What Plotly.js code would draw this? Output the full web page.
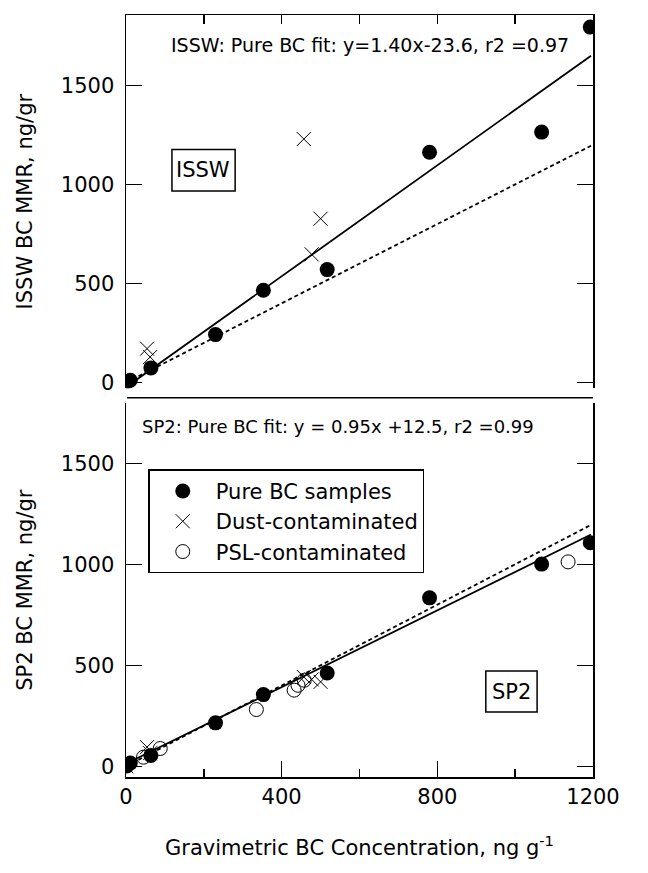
<!DOCTYPE html>
<html><head><meta charset="utf-8">
<script src="https://cdn.plot.ly/plotly-3.0.1.min.js"></script>
<style>html,body{margin:0;padding:0;background:#fff}</style>
</head><body><div id="chart" style="width:648px;height:873px"></div>
<script>
// Gravimetric BC (x) for the sample groups
const pureX = [2, 11, 64, 230, 353, 517, 780, 1068, 1193];
const dustX = [1, 54, 62, 457, 477, 500];
const pslX  = [45, 88, 335, 432, 442, 458, 1136];
// ISSW panel values
const isswPureY = [3, 12, 74, 242, 466, 570, 1162, 1264, 1794];
const isswDustY = [-39, 171, 129, 1229, 647, 827];
// SP2 panel values
const sp2PureY = [2, 16, 54, 215, 355, 462, 834, 1001, 1107];
const sp2DustY = [0, 95, 65, 442, 430, 418];
const sp2PslY  = [45, 88, 281, 377, 401, 426, 1012];
// fits (from the printed equations) and 1:1 line
const fitX = [0, 1195];
const isswSlope = 1.40, isswIntercept = -23.6;
const sp2Slope = 0.95, sp2Intercept = 12.5;
// tick labels
const xTicks = [0, 400, 800, 1200];
const xMinorTicks = [200, 600, 1000];
const yTicks = [0, 500, 1000, 1500];

const F = '"DejaVu Sans", sans-serif';
const fit = (m, b) => fitX.map(x => m * x + b);

const pureMarker = {symbol: 'circle', size: 15, color: '#000'};
const dustMarker = {symbol: 'x-thin-open', size: 14, color: '#000', line: {width: 1, color: '#000'}};
const pslMarker = {symbol: 'circle-open', size: 14, color: '#000', line: {width: 1, color: '#000'}};
const solid = {color: '#000', width: 1.8};
const dotted = {color: '#000', width: 1.8, dash: '4px,3px'};

const traces = [
  // ISSW panel
  {x: fitX, y: fitX, xaxis: 'x2', yaxis: 'y2', mode: 'lines', line: dotted, showlegend: false},
  {x: fitX, y: fit(isswSlope, isswIntercept), xaxis: 'x2', yaxis: 'y2', mode: 'lines', line: solid, showlegend: false},
  {x: dustX, y: isswDustY, xaxis: 'x2', yaxis: 'y2', mode: 'markers', marker: dustMarker, showlegend: false},
  {x: pureX, y: isswPureY, xaxis: 'x2', yaxis: 'y2', mode: 'markers', marker: pureMarker, showlegend: false},
  // SP2 panel
  {x: fitX, y: fitX, xaxis: 'x', yaxis: 'y', mode: 'lines', line: dotted, showlegend: false},
  {x: fitX, y: fit(sp2Slope, sp2Intercept), xaxis: 'x', yaxis: 'y', mode: 'lines', line: solid, showlegend: false},
  {x: pureX, y: sp2PureY, xaxis: 'x', yaxis: 'y', mode: 'markers', marker: pureMarker, name: 'Pure BC samples'},
  {x: dustX, y: sp2DustY, xaxis: 'x', yaxis: 'y', mode: 'markers', marker: dustMarker, name: 'Dust-contaminated'},
  {x: pslX, y: sp2PslY, xaxis: 'x', yaxis: 'y', mode: 'markers', marker: pslMarker, name: 'PSL-contaminated'}
];

const axCommon = {showline: true, linewidth: 1.5, linecolor: '#000', ticks: 'inside', tickwidth: 1.5, tickcolor: '#000',
  showgrid: false, zeroline: false, tickfont: {family: F, size: 21, color: '#000'}};

const boxLine = {color: '#000', width: 1.5};

const layout = {
  width: 648, height: 873,
  margin: {l: 125.7, r: 54.7, t: 14.7, b: 96.3, pad: 0},
  paper_bgcolor: '#fff', plot_bgcolor: '#fff',
  font: {family: F, color: '#000'},
  showlegend: true,
  legend: {x: 0.0477, y: 0.4038, xanchor: 'left', yanchor: 'top', bordercolor: '#000', borderwidth: 1.5,
    bgcolor: '#fff', font: {family: F, size: 21, color: '#000'}, itemwidth: 56, tracegroupgap: 0},
  xaxis: Object.assign({}, axCommon, {domain: [0, 1], range: [0, 1200], anchor: 'y', tickvals: xTicks, ticklen: 16,
    minor: {tickvals: xMinorTicks, ticks: 'inside', ticklen: 8, tickwidth: 1.5, tickcolor: '#000', showgrid: false},
    title: {text: 'Gravimetric BC Concentration, ng g<sup>-1</sup>', font: {family: F, size: 21, color: '#000'}, standoff: 32}}),
  xaxis2: Object.assign({}, axCommon, {domain: [0, 1], range: [0, 1200], anchor: 'y2', side: 'top', matches: 'x',
    tickmode: 'linear', tick0: 0, dtick: 200, ticklen: 9, showticklabels: false}),
  yaxis: Object.assign({}, axCommon, {domain: [0, 0.4904], range: [-53, 1797], anchor: 'x', mirror: 'ticks',
    tickvals: yTicks, ticklen: 16, ticklabelstandoff: 6,
    title: {text: 'SP2 BC MMR, ng/gr', font: {family: F, size: 21, color: '#000'}, standoff: 22}}),
  yaxis2: Object.assign({}, axCommon, {domain: [0.5101, 1], range: [-29, 1855], anchor: 'x2', mirror: 'ticks',
    tickvals: yTicks, ticklen: 16, ticklabelstandoff: 6,
    title: {text: 'ISSW BC MMR, ng/gr', font: {family: F, size: 21, color: '#000'}, standoff: 22}}),
  shapes: [
    {type: 'line', xref: 'paper', yref: 'paper', x0: 0.002, x1: 1, y0: 0.4976, y1: 0.4976, line: boxLine},
    {type: 'rect', xref: 'paper', yref: 'paper', x0: 0.0984, x1: 0.2337, y0: 0.7690, y1: 0.8234, line: boxLine, fillcolor: '#fff', layer: 'above'},
    {type: 'rect', xref: 'paper', yref: 'paper', x0: 0.7705, x1: 0.8803, y0: 0.0853, y1: 0.1391, line: boxLine, fillcolor: '#fff', layer: 'above'}
  ],
  annotations: [
    {xref: 'paper', yref: 'paper', x: 0.5225, y: 0.9602, xanchor: 'center', yanchor: 'middle',
      text: 'ISSW: Pure BC fit: y=1.40x-23.6, r2 =0.97', showarrow: false, font: {family: F, size: 19, color: '#000'}},
    {xref: 'paper', yref: 'paper', x: 0.4547, y: 0.4605, xanchor: 'center', yanchor: 'middle',
      text: 'SP2: Pure BC fit: y = 0.95x +12.5, r2 =0.99', showarrow: false, font: {family: F, size: 18, color: '#000'}},
    {xref: 'paper', yref: 'paper', x: 0.1659, y: 0.7962, xanchor: 'center', yanchor: 'middle', text: 'ISSW', showarrow: false,
      font: {family: F, size: 21, color: '#000'}},
    {xref: 'paper', yref: 'paper', x: 0.8255, y: 0.1122, xanchor: 'center', yanchor: 'middle', text: 'SP2', showarrow: false,
      font: {family: F, size: 21, color: '#000'}}
  ]
};

Plotly.newPlot('chart', traces, layout, {displayModeBar: false, staticPlot: true});
</script>
</body></html>
